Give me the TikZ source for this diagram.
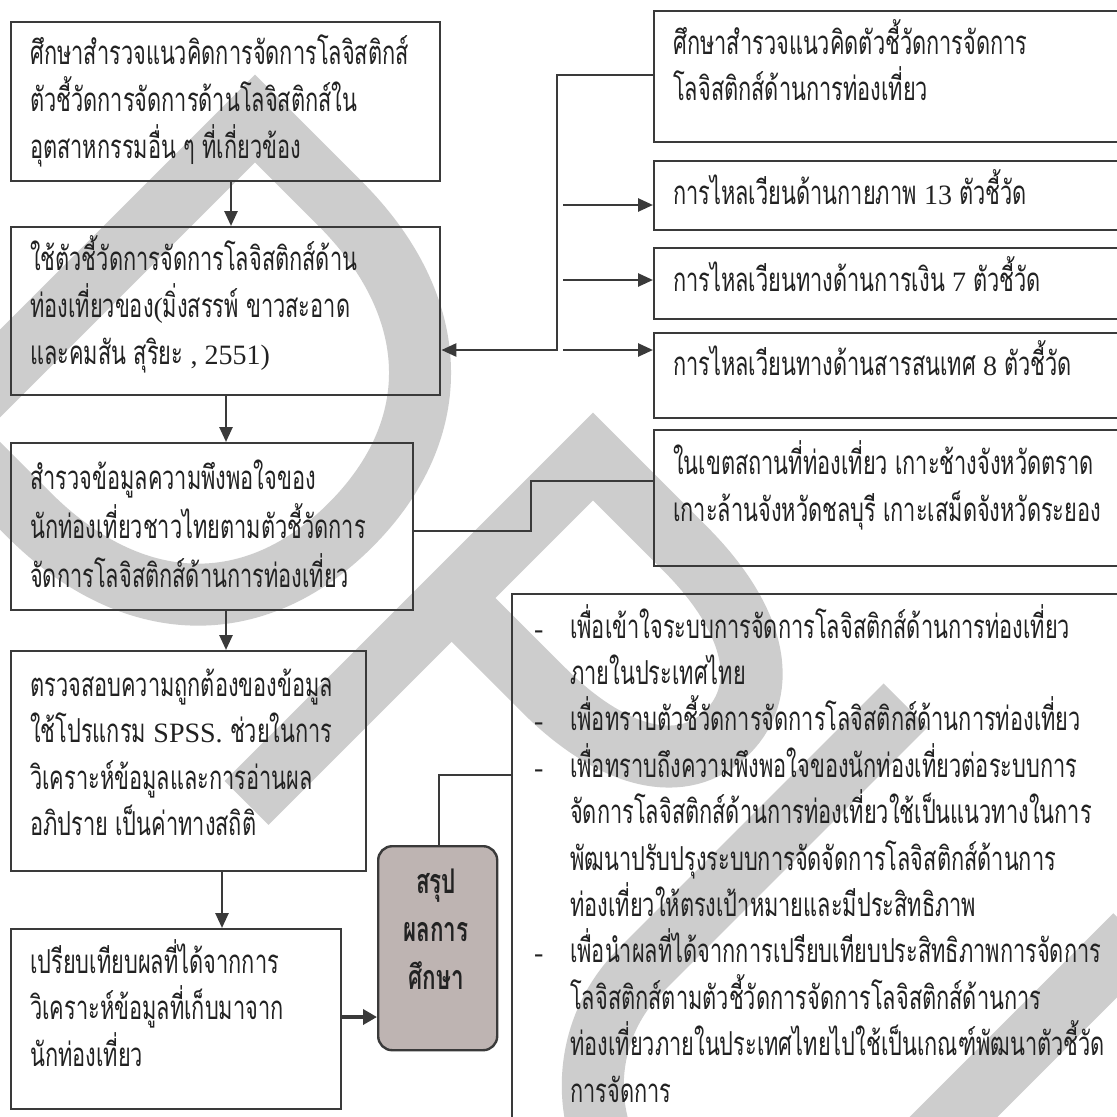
\documentclass[tikz,border=0pt]{standalone}
\usepackage{fontspec}
\usetikzlibrary{arrows.meta}
\newfontfamily\thaifont[Script=Thai,FakeStretch=0.66]{Loma}
\newfontfamily\latnfont{Liberation Serif}
\definecolor{ink}{HTML}{3A3A3A}
\definecolor{txtc}{HTML}{222222}
\definecolor{wmark}{HTML}{CDCDCD}
\definecolor{sumfill}{HTML}{BEB4B2}
% latin words inside thai lines
\newcommand\lt[1]{{\fontsize{28}{47}\latnfont #1}}
% one line of a paragraph, and a paragraph with fixed baseline distance
\newcommand\tline[1]{\hbox{#1}}
\newcommand\para[2]{\vtop{\baselineskip=#1pt\lineskiplimit=-1000pt\lineskip=0pt #2}}
\newcommand\ctline[1]{\hbox to 0pt{\hss #1\hss}}
\newcommand\dsh{\hbox to 36pt{\lt{-}\hss}}
\newcommand\ind{\hskip36pt}
\tikzset{
  box/.style={draw=ink, line width=2.4pt, rectangle, inner sep=0pt, anchor=north west},
  sumbox/.style={box, fill=sumfill, rounded corners=14pt},
  txt/.style={inner sep=0pt, anchor=base west, text=txtc, font=\fontsize{33}{47}\thaifont},
  conn/.style={draw=ink, line width=2.6pt},
  thin/.style={draw=ink, line width=2pt},
  arr/.style={conn, -{Triangle[length=15pt,width=13pt]}},
  thickarr/.style={draw=ink, line width=4.5pt, -{Triangle[length=14pt,width=15pt]}},
  wm/.style={draw=wmark, line width=62pt, line join=miter}
}
\begin{document}
\begin{tikzpicture}[x=1pt,y=-1pt]
\useasboundingbox (0,0) rectangle (1117,1117);
\fill[white] (0,0) rectangle (1117,1117);
\clip (0,0) rectangle (1117,1117);

% watermark letters D, P, U set along the diagonal
\begin{scope}[shift={(255,118.5)}, x={(0.7071pt,-0.7071pt)}, y={(0.7071pt,0.7071pt)}]
  \draw[wm] (0,0) -- (120,0) .. controls (266,0) and (355,-84) .. (355,-220)
    .. controls (355,-356) and (266,-440) .. (120,-440) -- (0,-440) -- cycle;
  \draw[wm] (478,-490) -- (478,0) -- (608,0) .. controls (707,0) and (768,-38) .. (768,-100)
    .. controls (768,-162) and (707,-200) .. (608,-200) -- (478,-200);
  \draw[wm] (875,45) -- (875,-330) arc[start angle=180, end angle=360, radius=162.5] -- (1200,45);
\end{scope}

% left column boxes
\node[box, minimum width=429pt, minimum height=159pt] (b1) at (10,21) {};
\node[box, minimum width=429pt, minimum height=168pt] (b2) at (10,226) {};
\node[box, minimum width=402pt, minimum height=167pt] (b3) at (10,442) {};
\node[box, minimum width=355pt, minimum height=220pt] (b4) at (10,650) {};
\node[box, minimum width=330pt, minimum height=180pt] (b5) at (10,928) {};
\node[sumbox, minimum width=119pt, minimum height=204pt] (sum) at (377,845) {};

% right column boxes
\node[box, minimum width=477pt, minimum height=131pt] (r1) at (653,10) {};
\node[box, minimum width=477pt, minimum height=69pt] (r2) at (653,160) {};
\node[box, minimum width=477pt, minimum height=71pt] (r3) at (653,247) {};
\node[box, minimum width=477pt, minimum height=85pt] (r4) at (653,332) {};
\node[box, minimum width=477pt, minimum height=136pt] (r5) at (653,429) {};
\node[box, minimum width=619pt, minimum height=537pt] (r6) at (511,593) {};

% texts
\node[txt] (t1) at (30,64) {\para{47}{%
  \tline{ศึกษาสำรวจแนวคิดการจัดการโลจิสติกส์}
  \tline{ตัวชี้วัดการจัดการด้านโลจิสติกส์ใน}
  \tline{อุตสาหกรรมอื่น ๆ ที่เกี่ยวข้อง}}};
\node[txt] (t2) at (30,270) {\para{47}{%
  \tline{ใช้ตัวชี้วัดการจัดการโลจิสติกส์ด้าน}
  \tline{ท่องเที่ยวของ\lt{(}มิ่งสรรพ์ ขาวสะอาด}
  \tline{และคมสัน สุริยะ \lt{, 2551)}}}};
\node[txt] (t3) at (30,489) {\para{49}{%
  \tline{สำรวจข้อมูลความพึงพอใจของ}
  \tline{นักท่องเที่ยวชาวไทยตามตัวชี้วัดการ}
  \tline{จัดการโลจิสติกส์ด้านการท่องเที่ยว}}};
\node[txt] (t4) at (30,696) {\para{46.5}{%
  \tline{ตรวจสอบความถูกต้องของข้อมูล}
  \tline{ใช้โปรแกรม \lt{SPSS.} ช่วยในการ}
  \tline{วิเคราะห์ข้อมูลและการอ่านผล}
  \tline{อภิปราย เป็นค่าทางสถิติ}}};
\node[txt] (t5) at (30,973) {\para{46.5}{%
  \tline{เปรียบเทียบผลที่ได้จากการ}
  \tline{วิเคราะห์ข้อมูลที่เก็บมาจาก}
  \tline{นักท่องเที่ยว}}};
\node[txt, anchor=base, font=\fontsize{34}{47}\thaifont\bfseries] (ts) at (436,893) {\para{48}{%
  \ctline{สรุป}
  \ctline{ผลการ}
  \ctline{ศึกษา}}};

\node[txt] (tr1) at (673,54) {\para{46}{%
  \tline{ศึกษาสำรวจแนวคิดตัวชี้วัดการจัดการ}
  \tline{โลจิสติกส์ด้านการท่องเที่ยว}}};
\node[txt] (tr2) at (673,204) {การไหลเวียนด้านกายภาพ \lt{13} ตัวชี้วัด};
\node[txt] (tr3) at (673,291) {การไหลเวียนทางด้านการเงิน \lt{7} ตัวชี้วัด};
\node[txt] (tr4) at (673,375) {การไหลเวียนทางด้านสารสนเทศ \lt{8} ตัวชี้วัด};
\node[txt] (tr5) at (673,474) {\para{47}{%
  \tline{ในเขตสถานที่ท่องเที่ยว เกาะช้างจังหวัดตราด}
  \tline{เกาะล้านจังหวัดชลบุรี เกาะเสม็ดจังหวัดระยอง}}};
\node[txt] (tr6) at (534,638) {\para{46.4}{%
  \tline{\dsh เพื่อเข้าใจระบบการจัดการโลจิสติกส์ด้านการท่องเที่ยว}
  \tline{\ind ภายในประเทศไทย}
  \tline{\dsh เพื่อทราบตัวชี้วัดการจัดการโลจิสติกส์ด้านการท่องเที่ยว}
  \tline{\dsh เพื่อทราบถึงความพึงพอใจของนักท่องเที่ยวต่อระบบการ}
  \tline{\ind จัดการโลจิสติกส์ด้านการท่องเที่ยวใช้เป็นแนวทางในการ}
  \tline{\ind พัฒนาปรับปรุงระบบการจัดจัดการโลจิสติกส์ด้านการ}
  \tline{\ind ท่องเที่ยวให้ตรงเป้าหมายและมีประสิทธิภาพ}
  \tline{\dsh เพื่อนำผลที่ได้จากการเปรียบเทียบประสิทธิภาพการจัดการ}
  \tline{\ind โลจิสติกส์ตามตัวชี้วัดการจัดการโลจิสติกส์ด้านการ}
  \tline{\ind ท่องเที่ยวภายในประเทศไทยไปใช้เป็นเกณฑ์พัฒนาตัวชี้วัด}
  \tline{\ind การจัดการ}}};

% main flow
\draw[arr] (b1.south -| 231,0) -- (b2.north -| 231,0);
\draw[arr] (b2.south -| 226,0) -- (b3.north -| 226,0);
\draw[arr] (b3.south -| 226,0) -- (b4.north -| 226,0);
\draw[arr] (b4.south -| 222,0) -- (b5.north -| 222,0);
\coordinate (h5) at (0,1017);
\draw[thickarr] (b5.east |- h5) -- (sum.west |- h5);

% indicator survey links
\coordinate (j1) at (557,75);
\coordinate (j2) at (557,350);
\draw[arr] (r1.west |- j1) -- (j1) -- (j2) -- (b2.east |- j2);
\coordinate (s2) at (563,205);
\coordinate (s3) at (563,280);
\coordinate (s4) at (563,350);
\draw[arr] (s2) -- (r2.west |- s2);
\draw[arr] (s3) -- (r3.west |- s3);
\draw[arr] (s4) -- (r4.west |- s4);

% study area link
\coordinate (k1) at (531,531);
\coordinate (k2) at (531,481);
\draw[thin] (b3.east |- k1) -- (k1) -- (k2) -- (r5.west |- k2);

% conclusion link
\coordinate (m1) at (439,775);
\draw[thin] (sum.north -| m1) -- (m1) -- (r6.west |- m1);
\end{tikzpicture}
\end{document}
